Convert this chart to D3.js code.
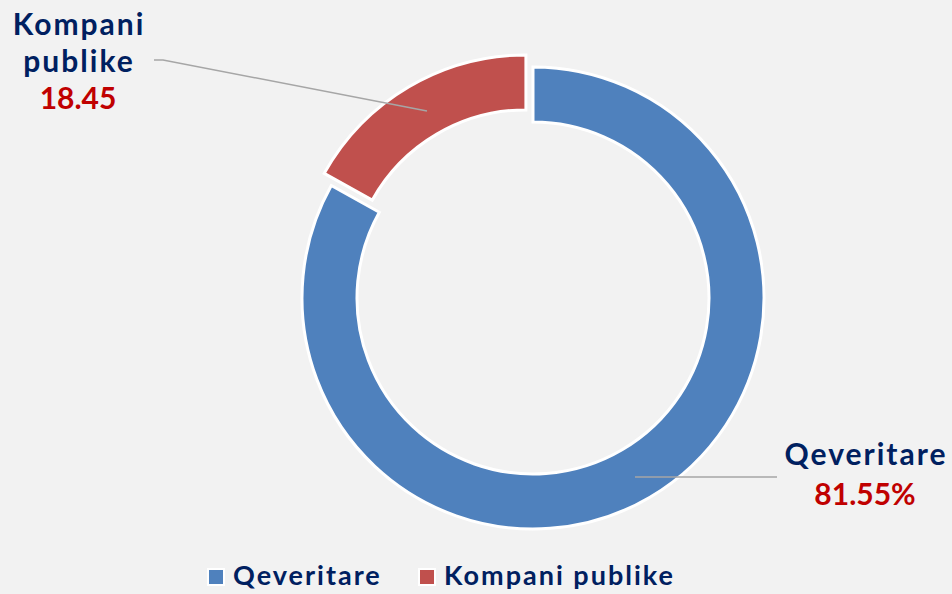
<!DOCTYPE html>
<html>
<head>
<meta charset="utf-8">
<script src="https://cdn.jsdelivr.net/npm/d3@7"></script>
<style>
  body { margin: 0; background: #f2f2f2; }
  text { font-family: Lato, "Open Sans", sans-serif; font-weight: 700; }
</style>
</head>
<body>
<div class="canvas"></div>
<script>
const categories = ['Qeveritare', 'Kompani publike'];
// slice sizes as drawn in the picture (the arc split sits ~61 deg left of top)
const values = [83.1, 16.9];
const valueLabels = ['81.55%', '18.45'];
const colors = ['#4f81bd', '#c0504d'];

const width = 952, height = 594;
const cx = 533, cy = 298;
const outerR = 231, innerR = 176;

const svg = d3.select('.canvas')
    .append('svg')
    .attr('width', width)
    .attr('height', height)
    .style('display', 'block');

svg.append('rect')
    .attr('width', width)
    .attr('height', height)
    .attr('fill', '#f2f2f2');

const graph = svg.append('g')
    .attr('transform', `translate(${cx}, ${cy})`);

const pie = d3.pie().sort(null).value(d => d);
const arc = d3.arc().innerRadius(innerR).outerRadius(outerR);
const arcs = pie(values);

// pull out the smaller slice a bit
const explode = [0, 14];

graph.selectAll('path')
    .data(arcs)
    .enter()
    .append('path')
    .attr('d', arc)
    .attr('fill', (d, i) => colors[i])
    .attr('stroke', '#fff')
    .attr('stroke-width', 3)
    .attr('stroke-linejoin', 'miter')
    .attr('transform', (d, i) => {
        const mid = (d.startAngle + d.endAngle) / 2;
        return `translate(${Math.sin(mid) * explode[i]}, ${-Math.cos(mid) * explode[i]})`;
    });

// leader lines
const leaders = [
    [[635, 477], [777, 477]],
    [[427, 111], [163, 60], [154, 60]]
];
svg.selectAll('.leader')
    .data(leaders)
    .enter()
    .append('path')
    .attr('class', 'leader')
    .attr('d', d3.line())
    .attr('fill', 'none')
    .attr('stroke', '#a6a6a6')
    .attr('stroke-width', 1.5);

// data labels
const labelPos = [
    {x: 866, lines: ['Qeveritare'], y: 465},
    {x: 79, lines: ['Kompani', 'publike'], y: 35}
];
const lineH = 37;
labelPos.forEach((p, i) => {
    const t = svg.append('text')
        .attr('text-anchor', 'middle')
        .attr('font-size', 30);
    p.lines.forEach((l, j) => {
        t.append('tspan')
            .attr('x', p.x)
            .attr('y', p.y + j * lineH)
            .attr('fill', '#002060')
            .attr('letter-spacing', 2)
            .text(l);
    });
    t.append('tspan')
        .attr('x', p.x - 1)
        .attr('y', p.y + p.lines.length * lineH + (i === 0 ? 3 : 0))
        .attr('fill', '#c00000')
        .attr('letter-spacing', 0)
        .text(valueLabels[i]);
});

// legend
const legendX = [207, 418];
const legend = svg.selectAll('.legend')
    .data(categories)
    .enter()
    .append('g')
    .attr('class', 'legend')
    .attr('transform', (d, i) => `translate(${legendX[i]}, 568)`);

legend.append('rect')
    .attr('x', 1).attr('y', 1)
    .attr('width', 16).attr('height', 16)
    .attr('fill', (d, i) => colors[i])
    .attr('stroke', '#fff')
    .attr('stroke-width', 2);

legend.append('text')
    .attr('x', 26)
    .attr('y', 17)
    .attr('font-size', 27)
    .attr('letter-spacing', 2)
    .attr('fill', '#002060')
    .text(d => d);
</script>
</body>
</html>
